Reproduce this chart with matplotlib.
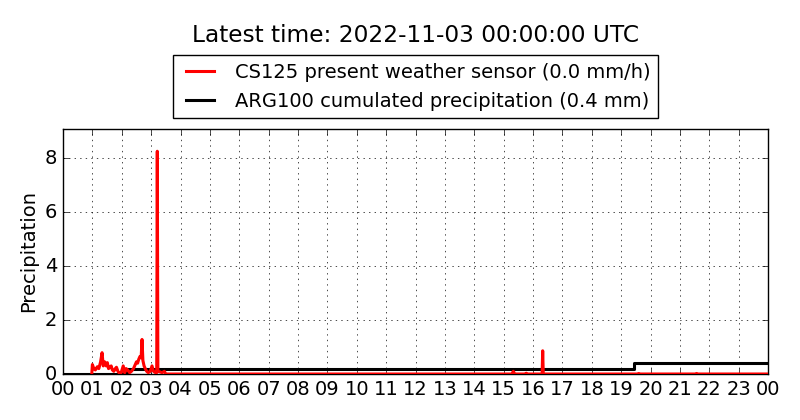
import matplotlib
matplotlib.use("Agg")
import matplotlib.pyplot as plt
import numpy as np

# CS125 present weather sensor (mm/h), time in hours of day
red_t = [0.98, 1.00, 1.05, 1.10, 1.17, 1.22, 1.28, 1.33, 1.37, 1.42, 1.47, 1.51, 1.55, 1.60,
         1.64, 1.68, 1.73, 1.78, 1.82, 1.87, 1.92, 1.98, 2.05, 2.10, 2.15, 2.20, 2.27, 2.33,
         2.40, 2.44, 2.50, 2.54, 2.58, 2.62, 2.66, 2.69, 2.72, 2.76, 2.80, 2.85, 2.90, 2.97,
         3.03, 3.08, 3.15, 3.19, 3.21, 3.23, 3.30, 3.37, 3.45, 3.50,
         15.28, 15.33, 15.38, 15.74, 15.77, 15.80, 16.31, 16.33, 16.35,
         19.58, 19.60, 19.62, 21.55, 21.57, 21.59, 24.0]
red_v = [0.0, 0.35, 0.20, 0.15, 0.27, 0.20, 0.45, 0.79, 0.30, 0.45, 0.30, 0.42, 0.20, 0.25,
         0.30, 0.15, 0.10, 0.20, 0.25, 0.10, 0.03, 0.05, 0.30, 0.05, 0.20, 0.15, 0.05, 0.10,
         0.20, 0.30, 0.45, 0.40, 0.55, 0.65, 0.60, 1.28, 0.50, 0.30, 0.20, 0.10, 0.05, 0.10,
         0.30, 0.10, 0.05, 0.05, 8.25, 0.10, 0.08, 0.05, 0.10, 0.0,
         0.0, 0.10, 0.0, 0.0, 0.03, 0.0, 0.0, 0.86, 0.0,
         0.0, 0.02, 0.0, 0.0, 0.02, 0.0, 0.0]

# ARG100 cumulated precipitation (mm)
blk_t = [0.0, 2.18, 19.45, 24.0]
blk_v = [0.0, 0.2, 0.4, 0.4]

hour_labels = ["%02d" % (h % 24) for h in range(25)]

plt.style.use("classic")
fig = plt.figure(figsize=(8, 4.2), dpi=100, facecolor="white")
ax = fig.add_axes([63/800, 1-374/420, (768-63)/800, (374-129)/420])
ax.set_facecolor("white")

ax.plot(red_t, red_v, color="red", lw=2.2, label="CS125 present weather sensor (0.0 mm/h)", zorder=3)
ax.plot(blk_t, blk_v, color="black", lw=2.2, drawstyle="steps-post",
        label="ARG100 cumulated precipitation (0.4 mm)", zorder=2)

ax.set_xlim(0, 24)
ax.set_ylim(0, max(red_v) * 1.1)
ax.set_xticks(range(25))
ax.set_xticklabels(hour_labels, fontsize=14)
ax.set_yticks([0, 2, 4, 6, 8])
ax.tick_params(axis="y", labelsize=14)
ax.set_ylabel("Precipitation", fontsize=14)
ax.grid(True, color="k", linestyle=":", linewidth=0.5)

leg = ax.legend(loc="lower center", bbox_to_anchor=(0.5, 1.0), fontsize=14,
                fancybox=False, frameon=True, borderaxespad=0.55)
leg.get_frame().set_edgecolor("black")
fig.text(0.52, 1-35/420, "Latest time: 2022-11-03 00:00:00 UTC", ha="center", va="center", fontsize=16.75)

fig.savefig("out.png", dpi=100, facecolor="white")
